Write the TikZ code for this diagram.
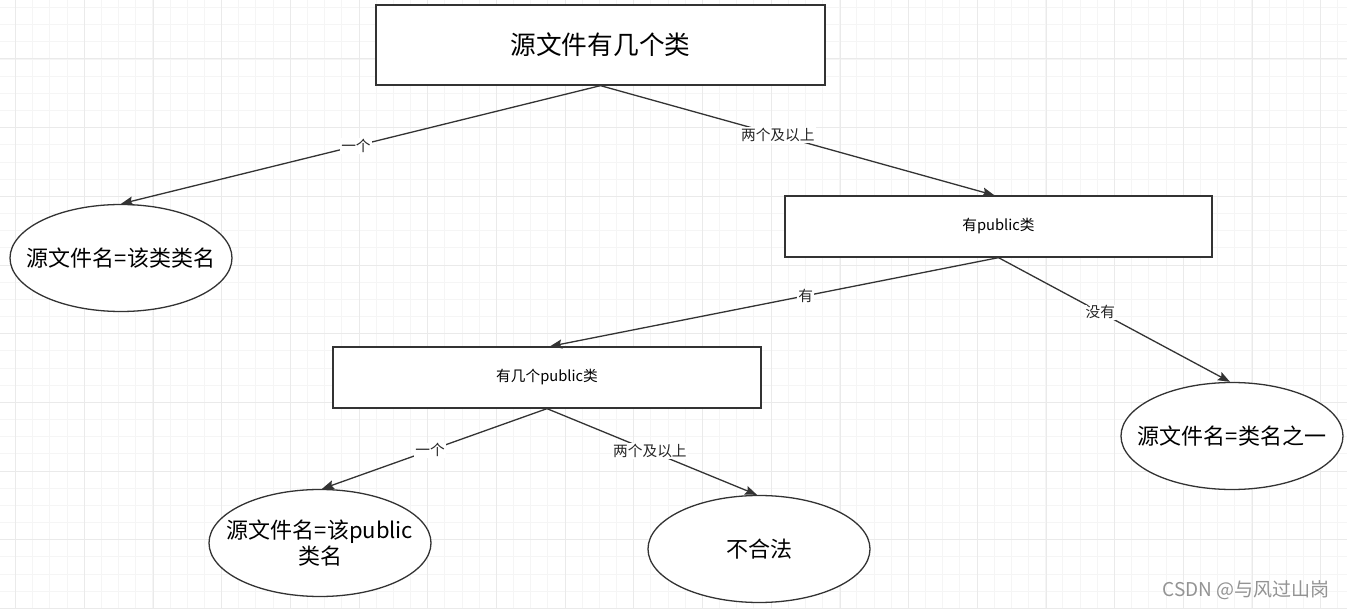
\documentclass[tikz,border=0pt]{standalone}
\usepackage{fontspec}
\setmainfont{Noto Sans CJK SC}
\usetikzlibrary{shapes.geometric, arrows.meta}
\definecolor{ink}{HTML}{333333}
\definecolor{gridminor}{HTML}{F5F5F5}
\definecolor{gridmajor}{HTML}{EAEAEA}
\tikzset{ box/.style = { rectangle
                       , draw = ink
                       , line width = 1.3pt
                       , fill = white
                       , inner sep = 0pt
                       , minimum height = 61pt
                       , font = \fontsize{14.7}{17}\selectfont
                       },
          oval/.style = { ellipse
                        , draw = ink
                        , line width = 1.3pt
                        , fill = white
                        , inner xsep = -20pt
                        , inner ysep = 0pt
                        , minimum width = 222pt
                        , minimum height = 107pt
                        , align = center
                        , font = \fontsize{22}{26}\selectfont
                        },
          lbl/.style = { fill = white
                       , inner sep = 1pt
                       , text = black!85
                       , font = \fontsize{14.7}{17}\selectfont
                       },
          arr/.style = { draw = ink
                       , line width = 1.3pt
                       , -{Stealth[length=12pt, width=9pt, inset=2pt]}
                       }
        }

\begin{document}
\begin{tikzpicture}[x=1pt, y=-1pt]
            \fill[white] (0,0) rectangle (1347,609);
            \useasboundingbox (0,0) rectangle (1347,609);
            % grid
            \foreach \i in {0,...,77}
                \draw[gridminor, line width=1pt] ({15.6+17.17*\i},0) -- ++(0,609);
            \foreach \i in {0,...,35}
                \draw[gridminor, line width=1pt] (0,{7.5+17.17*\i}) -- ++(1347,0);
            \foreach \i in {0,...,19}
                \draw[gridmajor, line width=1pt] ({15.6+68.7*\i},0) -- ++(0,609);
            \foreach \i in {0,...,8}
                \draw[gridmajor, line width=1pt] (0,{59+68.7*\i}) -- ++(1347,0);

            \node[box, minimum width=449pt, minimum height=80pt,
                  font=\fontsize{25.7}{30}\selectfont] (count) at (600.5,45) {源文件有几个类};
            \node[oval] (one)    at (121,258)  {源文件名=该类类名};
            \node[box, minimum width=427pt] (pub)   at (998.5,226.5) {有public类};
            \node[box, minimum width=428pt] (npub)  at (547,377.5)   {有几个public类};
            \node[oval] (any)    at (1232,436) {源文件名=类名之一};
            \node[oval] (onepub) at (320,543)  {源文件名=该public\\类名};
            \node[oval] (bad)    at (759,549)  {不合法};

            \path (count.south) edge[arr] node[lbl, pos=0.51] {一个} (one.north);
            \path (count.south) edge[arr] node[lbl, pos=0.45] {两个及以上} ([xshift=-4pt]pub.north);
            \path (pub.south)   edge[arr] node[lbl, pos=0.43] {有} ([xshift=3pt]npub.north);
            \path (pub.south)   edge[arr] node[lbl, pos=0.44] {没有} ([xshift=-2pt]any.north);
            \path (npub.south)  edge[arr] node[lbl, pos=0.52] {一个} ([xshift=2pt]onepub.north);
            \path (npub.south)  edge[arr] node[lbl, pos=0.49] {两个及以上} ([xshift=-2pt]bad.north);

            \node[anchor=east, text=gray!85, font=\fontsize{19}{22}\selectfont]
                 (mark) at (1333,590) {CSDN @与风过山岗};
\end{tikzpicture}
\end{document}
